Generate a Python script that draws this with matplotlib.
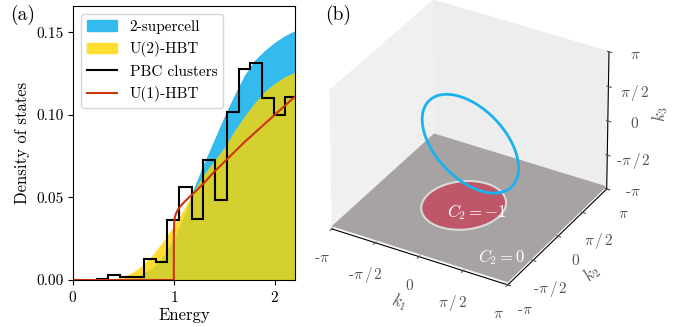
import numpy as np
import matplotlib.pyplot as plt
from matplotlib.patches import Patch
from matplotlib.lines import Line2D
from mpl_toolkits.mplot3d.art3d import Poly3DCollection

plt.rcParams['font.family'] = 'serif'
plt.rcParams['font.serif'] = ['cmr10']
plt.rcParams['mathtext.fontset'] = 'cm'
plt.rcParams['axes.formatter.use_mathtext'] = True
plt.rcParams['axes.unicode_minus'] = False

# ---- panel (a): density of states ----
energy = [0.0, 0.3, 0.4, 0.5, 0.6, 0.7, 0.8, 0.9, 1.0, 1.1, 1.2,
          1.3, 1.4, 1.5, 1.6, 1.7, 1.8, 1.9, 2.0, 2.1, 2.2]
dos_supercell = [0, 0, 0, 0.0005, 0.0015, 0.004, 0.008, 0.015, 0.025, 0.039, 0.056,
                 0.071, 0.085, 0.099, 0.112, 0.124, 0.133, 0.139, 0.144, 0.148, 0.151]
dos_u2 = [0, 0, 0.0005, 0.002, 0.005, 0.0095, 0.016, 0.024, 0.033, 0.043, 0.054,
          0.064, 0.072, 0.080, 0.090, 0.099, 0.107, 0.114, 0.119, 0.123, 0.1257]

energy_u1 = [0, 1.0, 1.0, 1.003, 1.01, 1.02, 1.04, 1.07, 1.1, 1.15, 1.2,
             1.3, 1.4, 1.5, 1.6, 1.7, 1.8, 1.9, 2.0, 2.1, 2.2]
dos_u1 = [0, 0, 0.025, 0.034, 0.038, 0.040, 0.0425, 0.045, 0.047, 0.050, 0.0528,
          0.0588, 0.0655, 0.0715, 0.0775, 0.0835, 0.089, 0.0945, 0.1, 0.1055, 0.111]

pbc_edges = [0.233, 0.348, 0.464, 0.581, 0.703, 0.819, 0.929, 1.054, 1.178,
             1.293, 1.41, 1.525, 1.642, 1.757, 1.873, 1.989, 2.105, 2.22]
pbc_dos = [0.0004, 0.0028, 0.0016, 0.002, 0.0125, 0.0107, 0.0363, 0.0561, 0.0369,
           0.0726, 0.0484, 0.1019, 0.1281, 0.1312, 0.110, 0.0999, 0.111]

blue = '#33bbee'
yellow = '#ffdd33'
olive = '#d4d030'
red = '#cc3311'

# ---- panel (b): nodal loop and C2 disk ----
pi_ticks = [-np.pi, -np.pi/2, 0, np.pi/2, np.pi]
pi_labels = [r'-$\pi$', r'-$\pi\,/\,2$', '0', r'$\pi\,/\,2$', r'$\pi$']
disk_center = (-0.2, -0.05)
disk_rx, disk_ry = 1.28, 1.45
loop_center = np.array([0.0, 0.0, -0.15])
loop_radius = 2.02
loop_u = np.array([0.549, -0.098, -0.83])
loop_v = np.array([-0.808, 0.192, -0.557])

fig = plt.figure(figsize=(6.73, 3.27), dpi=100)

ax = fig.add_axes([0.1085, 0.1437, 0.3295, 0.838])
ax.fill_between(energy, dos_supercell, color=blue, lw=0)
ax.fill_between(energy, dos_u2, color=yellow, lw=0)
ax.fill_between(energy, np.minimum(dos_supercell, dos_u2), color=olive, lw=0)
ax.stairs(pbc_dos, pbc_edges, color='k', lw=1.5)
ax.plot(energy_u1, dos_u1, color=red, lw=1.5)
ax.set_xlim(0, 2.2)
ax.set_ylim(0, 0.166)
ax.set_xticks([0, 1, 2])
ax.set_yticks([0, 0.05, 0.10, 0.15])
ax.set_yticklabels(['0.00', '0.05', '0.10', '0.15'])
ax.tick_params(labelsize=11)
ax.set_xlabel('Energy', fontsize=12, labelpad=2)
ax.set_ylabel('Density of states', fontsize=12)
handles = [Patch(color=blue, label='2-supercell'),
           Patch(color=yellow, label='U(2)-HBT'),
           Line2D([], [], color='k', lw=1.5, label='PBC clusters'),
           Line2D([], [], color=red, lw=1.5, label='U(1)-HBT')]
ax.legend(handles=handles, loc='upper left', fontsize=11)
fig.text(0.015, 0.985, '(a)', fontsize=14, va='top')

ax2 = fig.add_axes([0.409, 0.0676, 0.566, 0.979], projection='3d', computed_zorder=False)
floor_z = -np.pi + 0.12
kk = np.array([-np.pi, np.pi])
KX, KY = np.meshgrid(kk, kk)
ax2.plot_surface(KX, KY, np.full_like(KX, floor_z), color='#a8a3a3', shade=False, zorder=1)
t = np.linspace(0, 2*np.pi, 200)
dx = disk_center[0] + disk_rx*np.cos(t)
dy = disk_center[1] + disk_ry*np.sin(t)
ax2.add_collection3d(Poly3DCollection([list(zip(dx, dy, np.full_like(t, floor_z)))],
                                      facecolor='#be5869', edgecolor='none', zorder=2))
ax2.plot(dx, dy, floor_z, color='#dadada', lw=1.5, zorder=3)
loop = loop_center[:, None] + loop_radius*(np.outer(loop_u, np.cos(t)) + np.outer(loop_v, np.sin(t)))
ax2.plot(loop[0], loop[1], loop[2], color='#1ab2ee', lw=2, zorder=4)

ax2.set_xlim(-np.pi, np.pi)
ax2.set_ylim(-np.pi, np.pi)
ax2.set_zlim(-np.pi, np.pi)
ax2.set_box_aspect((1, 1, 0.8))
ax2.set_proj_type('persp', focal_length=3)
ax2.grid(False)
ax2.xaxis.set_pane_color((0.94, 0.94, 0.94, 1))
ax2.yaxis.set_pane_color((0.93, 0.93, 0.93, 1))
ax2.zaxis.set_pane_color((0.97, 0.97, 0.97, 1))
for axis in (ax2.xaxis, ax2.yaxis, ax2.zaxis):
    axis.set_ticks(pi_ticks)
    axis.set_ticklabels(pi_labels)
    axis.set_tick_params(labelsize=11, colors='#555555')
ax2.zaxis.set_ticks_position('upper')
ax2.zaxis.set_label_position('upper')
ax2.set_xlabel('$k_1$', fontsize=12, color='#555555', labelpad=2)
ax2.set_ylabel('$k_2$', fontsize=12, color='#555555', labelpad=2)
ax2.set_zlabel('$k_3$', fontsize=12, color='#555555', labelpad=2)
ax2.view_init(elev=32, azim=-60)
fig.text(0.709, 0.352, '$C_2=-1$', color='white', fontsize=12, ha='center', va='center')
fig.text(0.746, 0.214, '$C_2=0$', color='white', fontsize=12, ha='center', va='center')
fig.text(0.483, 0.985, '(b)', fontsize=14, va='top')

fig.savefig('out.png', dpi=100)
